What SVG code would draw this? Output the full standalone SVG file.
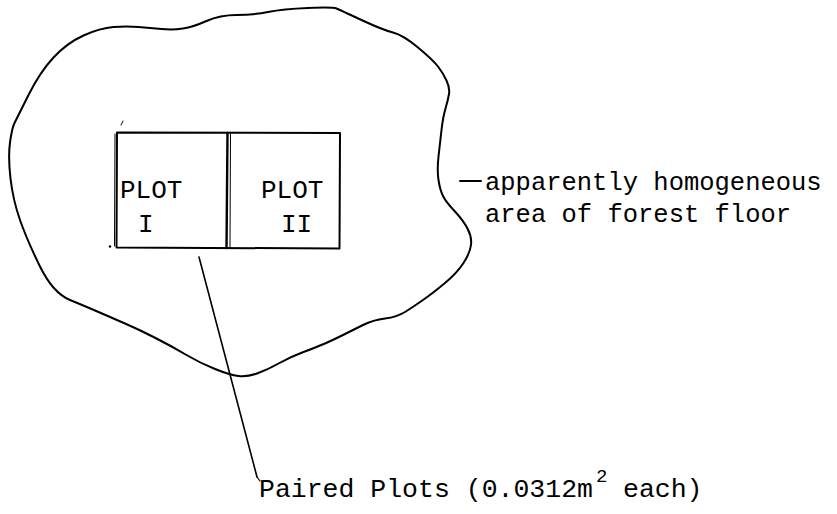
<svg xmlns="http://www.w3.org/2000/svg" width="837" height="514" viewBox="0 0 837 514">
<style>
.ln{fill:none;stroke:#000;stroke-linecap:round;stroke-linejoin:round}
.t{font-family:"Liberation Mono","DejaVu Sans Mono",monospace;fill:#000}
</style>
<rect width="837" height="514" fill="#fff"/>
<g id="area">
<path class="ln" stroke-width="2" d="M 336.5,8.5 Q 340,10 361.5,20 Q 383,30 393,32.5 Q 403,35 418,47.5 Q 433,60 438,66.5 Q 443,73 446.5,80.5 Q 450,88 449,94 Q 448,100 445.5,108.5 Q 443,117 441.5,130 Q 440,143 438.5,156.5 Q 437,170 438.5,180 Q 440,190 443,196 Q 446,202 454.5,211 Q 463,220 467.5,228.5 Q 472,237 471,245 Q 470,253 463.5,263 Q 457,273 445,283 Q 433,293 423,300 Q 413,307 405,312 Q 397,317 385,318.5 Q 373,320 363,325 Q 353,330 343,335 Q 333,340 325,343.5 Q 317,347 303.5,352 Q 290,357 278.5,363.5 Q 267,370 257,373.5 Q 247,377 238.5,376 Q 230,375 215,369 Q 200,363 186.5,355 Q 173,347 156.5,338.5 Q 140,330 125,323.5 Q 110,317 98.5,312 Q 87,307 70,300 Q 53,293 40,266.5 Q 27,240 20,220 Q 13,200 10.5,178.5 Q 8,157 10,142.5 Q 12,128 14.5,123 Q 17,118 28.5,95 Q 40,72 53.5,57.5 Q 67,43 83.5,35.5 Q 100,28 113.5,27 Q 127,26 138.5,27 Q 150,28 161.5,29 Q 173,30 183,28.5 Q 193,27 206.5,21 Q 220,15 236.5,15 Q 253,15 268,12 Q 283,9 308,8 Q 333,7 336.5,8.5 Z"/>
</g>
<g id="plots">
<path class="ln" stroke-width="2" d="M117,132.5 L340,133 L339.5,248.5 L116.5,247.5 Z"/>
<line class="ln" stroke-width="1" x1="115" y1="134" x2="114.5" y2="246"/>
<line class="ln" stroke-width="2.4" x1="227.5" y1="133" x2="226.5" y2="248"/>
<line class="ln" stroke-width="1" x1="230.5" y1="134" x2="230" y2="248"/>
<line class="ln" stroke-width="1" x1="121" y1="125" x2="123" y2="121"/>
<circle cx="110" cy="246.5" r="1.2" fill="#000"/>
</g>
<g id="plot1">
<text class="t" x="120" y="198" font-size="26">PLOT</text>
<text class="t" x="138" y="232" font-size="26">I</text>
</g>
<g id="plot2">
<text class="t" x="261" y="198" font-size="26">PLOT</text>
<text class="t" x="281" y="232" font-size="26">II</text>
</g>
<g id="connectors">
<line class="ln" stroke-width="1.6" x1="199" y1="257" x2="257" y2="477"/>
<path class="ln" stroke-width="1.2" d="M257,477 L260,481"/>
<line class="ln" stroke-width="2" x1="460" y1="181" x2="481" y2="181"/>
</g>
<g id="label-area">
<text class="t" x="485" y="190" font-size="25.5">apparently homogeneous</text>
<text class="t" x="485" y="222" font-size="25.5">area of forest floor</text>
</g>
<g id="label-plots">
<text class="t" x="259" y="497" font-size="26.5">Paired Plots (0.0312m</text>
<text class="t" x="596" y="482" font-size="19">2</text>
<text class="t" x="623" y="497" font-size="26.5">each)</text>
</g>
</svg>
